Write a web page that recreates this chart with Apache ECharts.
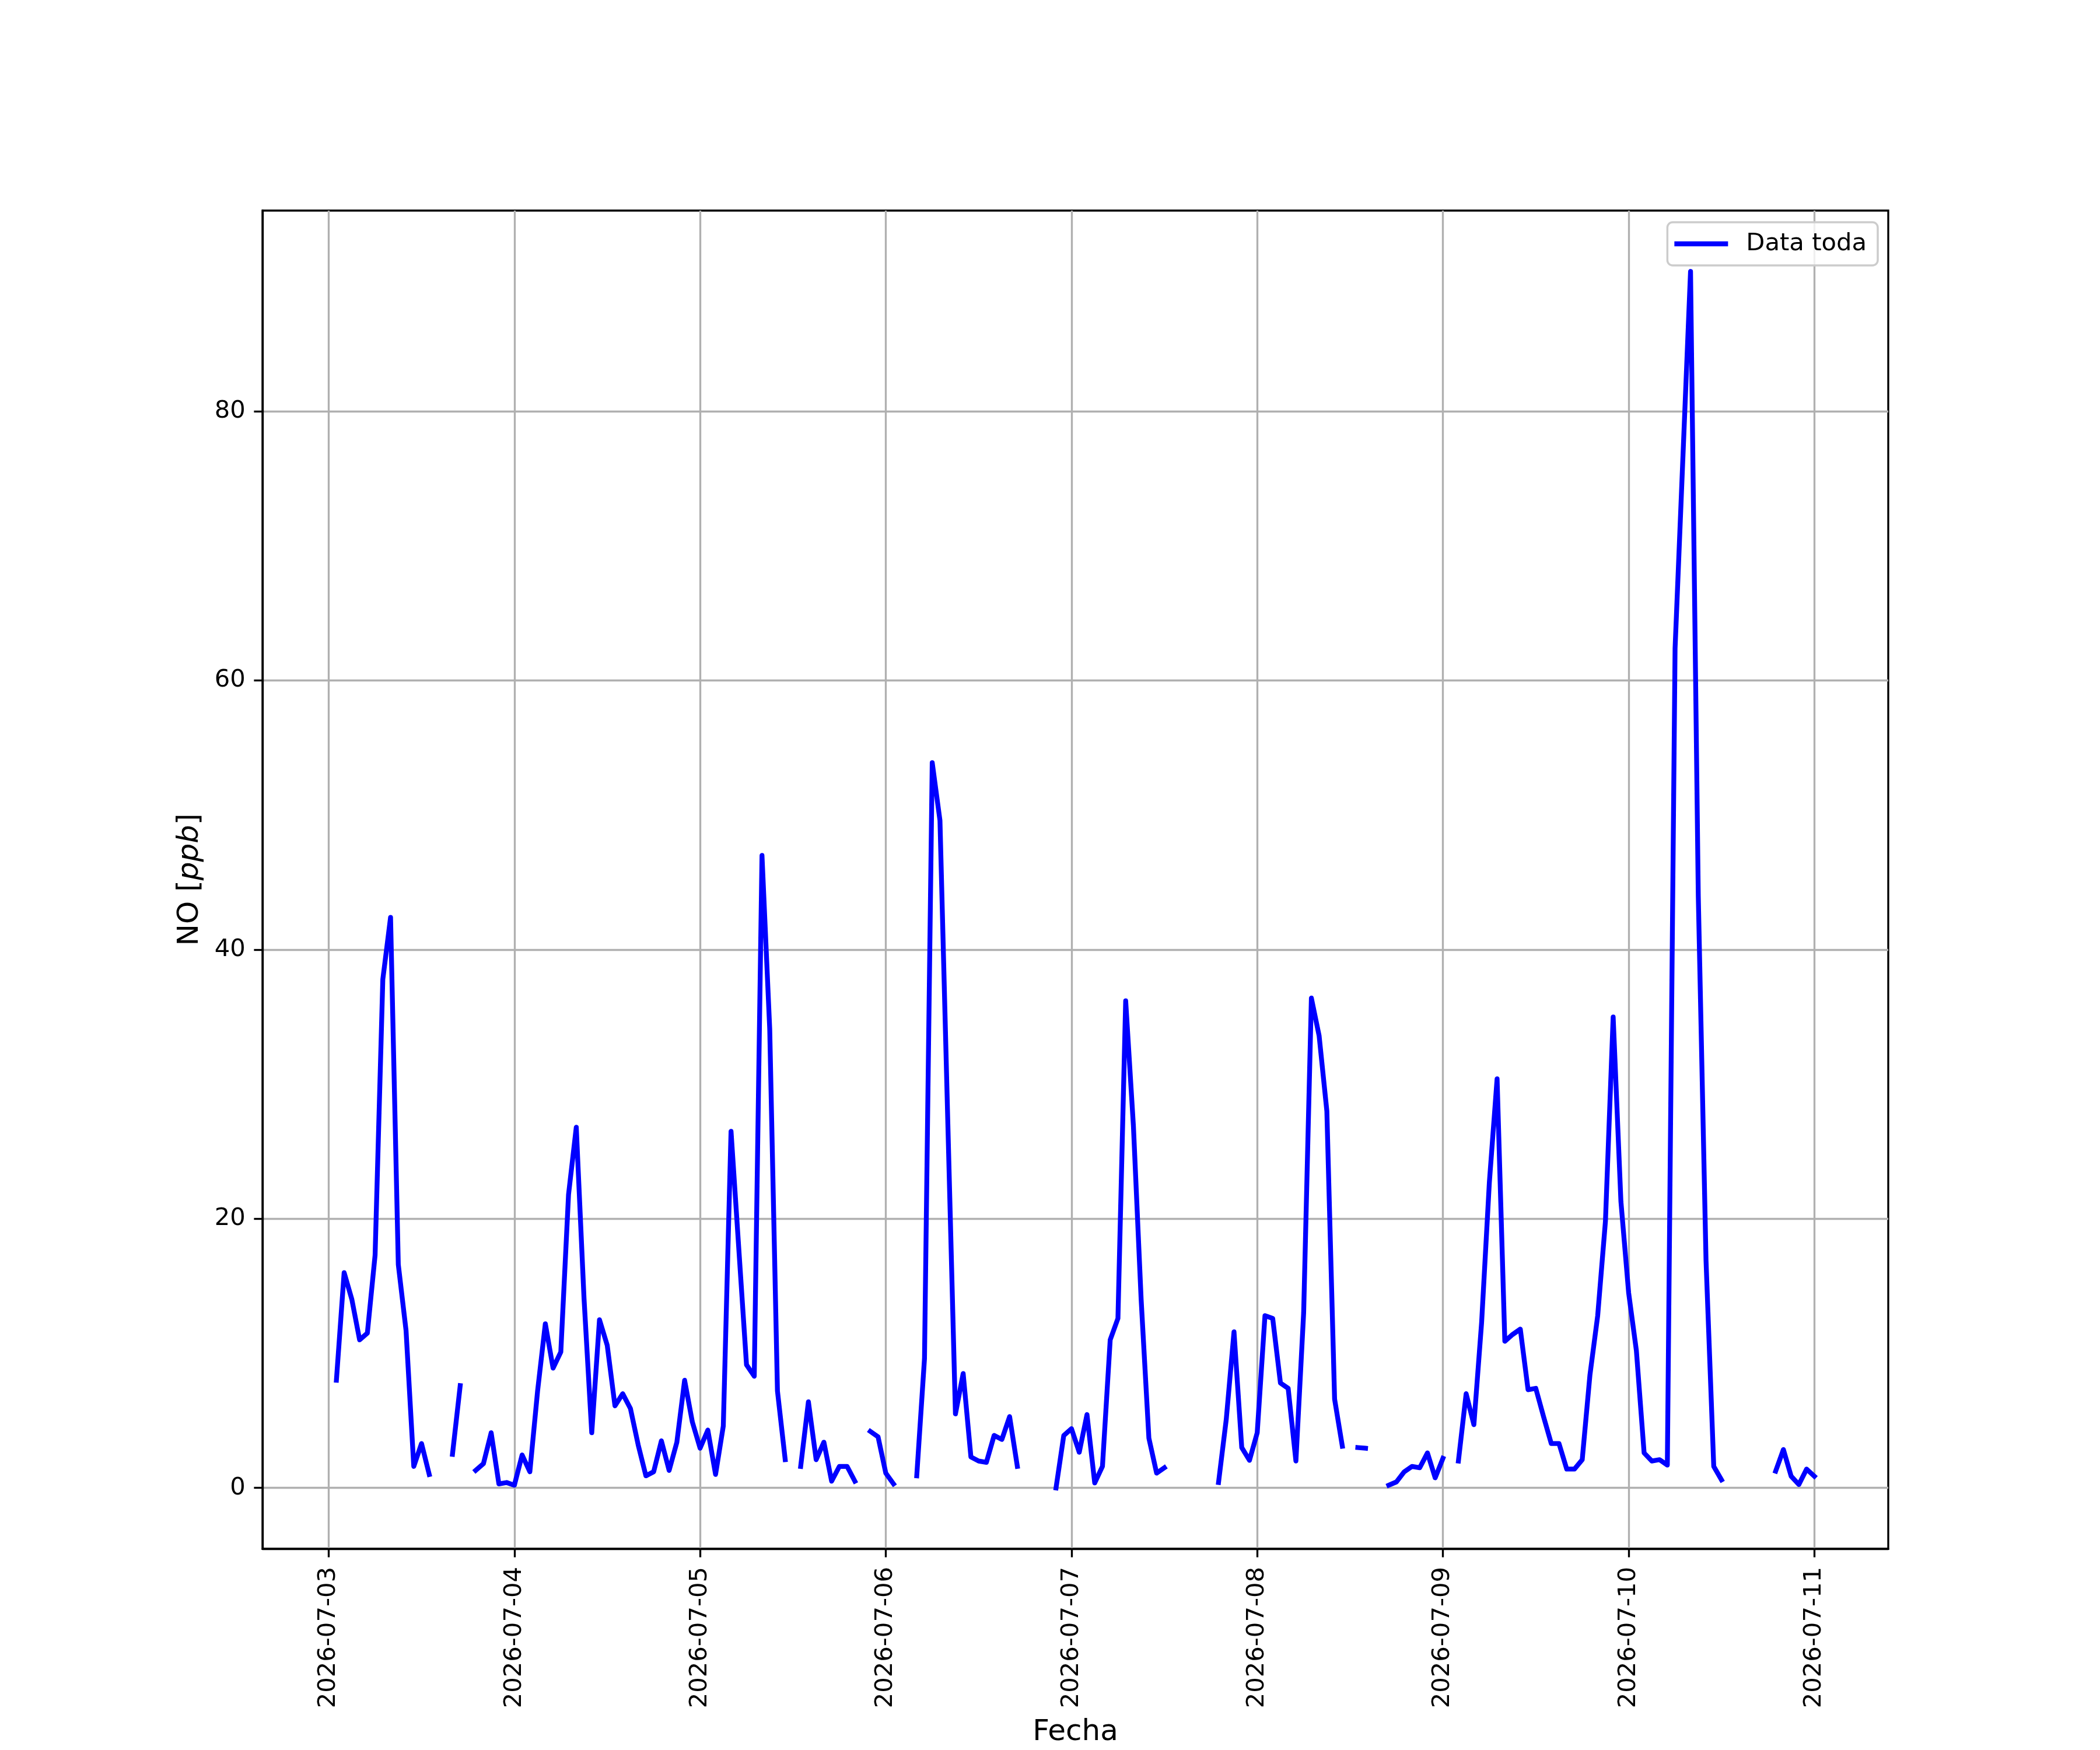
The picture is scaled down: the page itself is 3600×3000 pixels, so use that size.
<!DOCTYPE html>
<html>
<head>
<meta charset="utf-8">
<script src="https://cdn.jsdelivr.net/npm/echarts@6/dist/echarts.min.js"></script>
<style>
  html, body { margin: 0; padding: 0; background: #ffffff; }
  #chart { width: 3600px; height: 3000px; }
</style>
</head>
<body>
<div id="chart"></div>
<script>
// ---- Data (hourly NO readings, ppb; null = missing) ----
const firstReading = [2026, 7, 3, 1];   // 2026-07-03 01:00
const day0703 = [8.0, 16.0, 14.0, 11.0, 11.5, 17.3, 37.8, 42.4, 16.6, 11.7, 1.6, 3.3, 1.0, null, null, 2.5, 7.6, null, 1.3, 1.8, 4.1, 0.3, 0.4]; // 01:00-23:00
const day0704 = [0.2, 2.45, 1.2, 7.2, 12.2, 8.9, 10.1, 21.8, 26.8, 14.1, 4.1, 12.5, 10.6, 6.1, 7.0, 5.9, 3.2, 0.9, 1.2, 3.5, 1.3, 3.4, 8.0, 4.9];
const day0705 = [2.95, 4.3, 1.0, 4.6, 26.5, 17.8, 9.15, 8.3, 47.0, 34.1, 7.2, 2.1, null, 1.6, 6.4, 2.1, 3.4, 0.5, 1.6, 1.6, 0.5, null, 4.2, 3.8];
const day0706 = [1.1, 0.3, null, null, 0.9, 9.6, 53.9, 49.6, 27.5, 5.5, 8.5, 2.3, 2.0, 1.9, 3.9, 3.6, 5.3, 1.6, null, null, null, null, 0.0, 3.9];
const day0707 = [4.4, 2.65, 5.45, 0.37, 1.6, 11.0, 12.6, 36.2, 26.9, 14.0, 3.7, 1.1, 1.5, null, null, null, null, null, null, 0.4, 5.1, 11.6, 3.0, 2.05];
const day0708 = [4.1, 12.8, 12.6, 7.8, 7.4, 2.0, 13.0, 36.4, 33.6, 28.0, 6.6, 3.1, null, 3.0, 2.95, null, null, 0.2, 0.45, 1.2, 1.6, 1.5, 2.6, 0.75];
const day0709 = [2.2, null, 2.0, 7.0, 4.7, 12.3, 22.7, 30.4, 10.9, 11.4, 11.8, 7.3, 7.4, 5.3, 3.3, 3.3, 1.4, 1.4, 2.1, 8.4, 12.8, 19.8, 35.0, 21.3];
const day0710 = [14.5, 10.2, 2.6, 2.0, 2.1, 1.7, 62.4, 76.4, 90.4, 44.0, 16.9, 1.6, 0.6, null, null, null, null, null, null, 1.25, 2.85, 0.87, 0.25, 1.4];
const day0711 = [0.87];

const xTickDates = ['2026-07-03', '2026-07-04', '2026-07-05', '2026-07-06', '2026-07-07', '2026-07-08', '2026-07-09', '2026-07-10', '2026-07-11'];
const yTickValues = [0, 20, 40, 60, 80];
const seriesName = 'Data toda';
const xAxisTitle = 'Fecha';
const yAxisTitle = 'NO [{i|ppb}]';

// ---- Build series ----
const HOUR = 3600 * 1000;
const values = [].concat(day0703, day0704, day0705, day0706, day0707, day0708, day0709, day0710, day0711);
const t0 = new Date(firstReading[0], firstReading[1] - 1, firstReading[2], firstReading[3]).getTime();
const seriesData = values.map((v, i) => [t0 + i * HOUR, v]);

function parseDay(s) {
  const p = s.split('-').map(Number);
  return new Date(p[0], p[1] - 1, p[2]).getTime();
}
const xTicks = xTickDates.map(parseDay);
const pad2 = n => (n < 10 ? '0' : '') + n;
function fmtDate(v) {
  const d = new Date(v);
  return d.getFullYear() + '-' + pad2(d.getMonth() + 1) + '-' + pad2(d.getDate());
}

// matplotlib-like 5% margins
const tFirst = seriesData[0][0], tLast = seriesData[seriesData.length - 1][0];
const xSpan = tLast - tFirst;
const valid = values.filter(v => v !== null);
const vMin = Math.min.apply(null, valid), vMax = Math.max.apply(null, valid);
const ySpan = vMax - vMin;

const FONT = 'DejaVu Sans';
const LW = 3.33;

const chart = echarts.init(document.getElementById('chart'), null, { renderer: 'canvas', width: 3600, height: 3000 });
chart.setOption({
  backgroundColor: '#ffffff',
  animation: false,
  grid: {
    left: 450, right: 363, top: 361, bottom: 330,
    show: true, borderColor: '#000000', borderWidth: LW, backgroundColor: 'transparent',
    containLabel: false
  },
  legend: {
    right: 381, top: 381,
    orient: 'vertical',
    data: [seriesName],
    icon: 'rect',
    itemWidth: 92, itemHeight: 8.3,
    padding: [16, 19, 16, 12],
    backgroundColor: 'rgba(255,255,255,0.8)',
    borderColor: '#cccccc', borderWidth: 3.5, borderRadius: 9,
    textStyle: { fontFamily: FONT, fontSize: 41.7, color: '#000000', padding: [0, 0, 0, 26] },
    selectedMode: false
  },
  xAxis: {
    type: 'value',
    scale: true,
    min: tFirst - 0.05 * xSpan,
    max: tLast + 0.05 * xSpan,
    name: xAxisTitle,
    nameLocation: 'middle',
    nameGap: 290,
    nameTextStyle: { fontFamily: FONT, fontSize: 50, color: '#000000', verticalAlign: 'top' },
    axisLine: { show: true, onZero: false, lineStyle: { color: '#000000', width: LW } },
    axisTick: { show: true, inside: false, length: 14.6, customValues: xTicks, lineStyle: { color: '#000000', width: LW } },
    axisLabel: {
      show: true, rotate: 90, margin: 31, customValues: xTicks,
      fontFamily: FONT, fontSize: 41.7, color: '#000000',
      formatter: v => fmtDate(v),
      hideOverlap: false
    },
    splitLine: { show: true, lineStyle: { color: '#b0b0b0', width: LW } }
  },
  yAxis: {
    type: 'value',
    min: vMin - 0.05 * ySpan,
    max: vMax + 0.05 * ySpan,
    name: yAxisTitle,
    nameLocation: 'middle',
    nameRotate: 90,
    nameGap: 99,
    nameTextStyle: {
      fontFamily: FONT, fontSize: 50, color: '#000000',
      rich: { i: { fontFamily: FONT, fontSize: 50, fontStyle: 'italic', color: '#000000' } }
    },
    axisLine: { show: true, onZero: false, lineStyle: { color: '#000000', width: LW } },
    axisTick: { show: true, inside: false, length: 14.6, customValues: yTickValues, lineStyle: { color: '#000000', width: LW } },
    axisLabel: {
      show: true, margin: 29.2, customValues: yTickValues,
      fontFamily: FONT, fontSize: 41.7, color: '#000000'
    },
    splitLine: { show: true, lineStyle: { color: '#b0b0b0', width: LW } }
  },
  series: [{
    name: seriesName,
    type: 'line',
    data: seriesData,
    showSymbol: false,
    symbol: 'none',
    connectNulls: false,
    color: '#0000ff',
    lineStyle: { color: '#0000ff', width: 8.3, cap: 'square', join: 'round' },
    emphasis: { disabled: true },
    z: 3
  }]
});
</script>
</body>
</html>
